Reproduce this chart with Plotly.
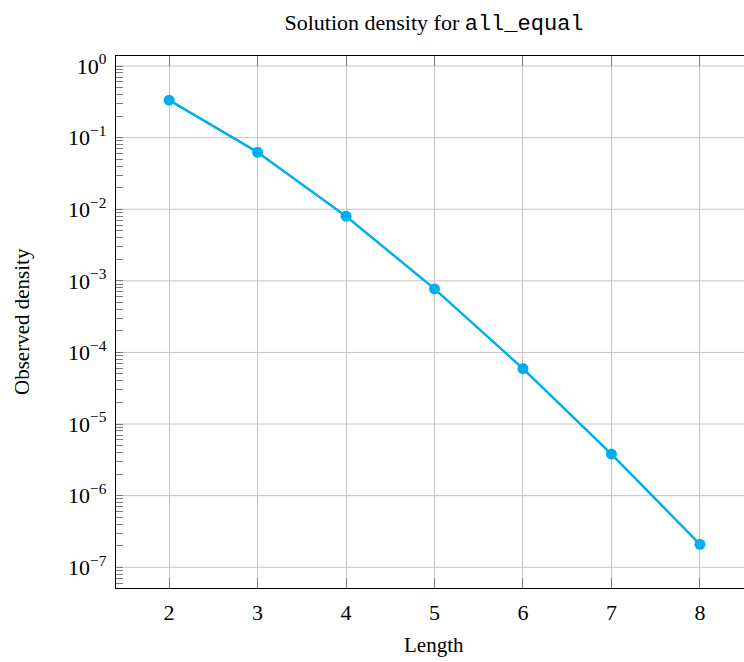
import plotly.graph_objects as go

lengths = [2, 3, 4, 5, 6, 7, 8]
density = [0.3333, 0.0625, 0.008, 7.72e-4, 5.95e-5, 3.81e-6, 2.09e-7]
x_ticks = [2, 3, 4, 5, 6, 7, 8]
y_exponents = [0, -1, -2, -3, -4, -5, -6, -7]

SERIF = "Liberation Serif"
MONO = "Liberation Mono"
LINE = "#00AEEF"
TICK = "#7a7a7a"
GRID = "#c4c4c4"
Y_RANGE = [-7.29, 0.14]

y_major = [10.0 ** e for e in y_exponents]
y_major_text = ["10<sup>" + (("\u2212" + str(-e)) if e < 0 else str(e)) + "</sup>" for e in y_exponents]
y_minor = [k * 10.0 ** e for e in range(-8, 1) for k in range(2, 10)]

fig = go.Figure()
fig.add_trace(go.Scatter(
    x=lengths, y=density, mode="lines+markers",
    line=dict(color=LINE, width=2.5),
    marker=dict(color=LINE, size=11),
    showlegend=False,
))

# horizontal major grid lines, placed through the y axis scale
grid_shapes = [
    dict(type="line", xref="paper", x0=0, x1=1, yref="y", y0=v, y1=v,
         line=dict(color=GRID, width=1), layer="below")
    for v in y_major
]

fig.update_layout(
    width=744, height=662,
    margin=dict(l=116, r=0, t=56, b=74, autoexpand=False),
    plot_bgcolor="white", paper_bgcolor="white",
    font=dict(family=SERIF, size=21, color="black"),
    title=dict(
        text="Solution density for <span style='font-family:" + MONO + "'>all_equal</span>",
        x=434 / 744, xanchor="center", xref="container",
        y=1 - 22 / 662, yanchor="middle", yref="container",
        font=dict(family=SERIF, size=22, color="black"),
    ),
    shapes=grid_shapes,
    annotations=[
        dict(text="Length", x=(434 - 116) / 628, y=0, xref="paper", yref="paper",
             yshift=-57, xanchor="center", yanchor="middle", showarrow=False,
             font=dict(family=SERIF, size=21, color="black")),
        dict(text="Observed density", x=0, y=0.5, xref="paper", yref="paper",
             xshift=-94, xanchor="center", yanchor="middle", textangle=-90, showarrow=False,
             font=dict(family=SERIF, size=21, color="black")),
    ],
)

fig.update_xaxes(
    range=[1.4, 8.498], automargin=False,
    tickvals=x_ticks, ticktext=[str(v) for v in x_ticks],
    tickfont=dict(family=SERIF, size=22),
    showgrid=True, gridcolor=GRID, gridwidth=1,
    showline=True, linecolor="black", linewidth=1.2, mirror="ticks",
    ticks="inside", ticklen=10, tickcolor=TICK, tickwidth=1.2,
    ticklabelstandoff=4,
    zeroline=False,
)

fig.update_yaxes(
    type="log", range=Y_RANGE, automargin=False,
    tickmode="array", tickvals=y_major + y_minor,
    ticktext=y_major_text + ["" for _ in y_minor],
    tickfont=dict(family=SERIF, size=22),
    showgrid=False,
    showline=True, linecolor="black", linewidth=1.2, mirror=False,
    ticks="inside", ticklen=7, tickcolor=TICK, tickwidth=1.2,
    ticklabelstandoff=4,
    zeroline=False,
)

fig.write_html("out.html", config={"displayModeBar": False},
               post_script="document.body.style.margin='0';")
